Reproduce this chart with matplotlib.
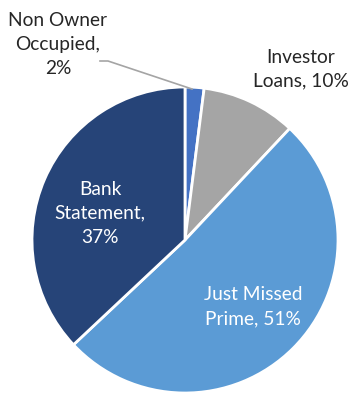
import matplotlib
matplotlib.use("Agg")
import matplotlib.pyplot as plt

# loan mix by program, percent of total
segments = ["Non Owner Occupied", "Investor Loans", "Just Missed Prime", "Bank Statement"]
shares = [2, 10, 51, 37]
label_text = ["Non Owner\nOccupied,\n2%", "Investor\nLoans, 10%",
              "Just Missed\nPrime, 51%", "Bank\nStatement,\n37%"]
colors = ["#4472C4", "#A5A5A5", "#5B9BD5", "#264478"]

W, H = 352, 394
fig = plt.figure(figsize=(W / 100, H / 100), dpi=100)
ax = fig.add_axes([0, 0, 1, 1])

cx, cy, r = 185, H - 240, 153
ax.pie(shares, colors=colors, startangle=90, counterclock=False,
       center=(cx, cy), radius=r, frame=True,
       wedgeprops=dict(edgecolor="white", linewidth=2))
ax.set_xlim(0, W)
ax.set_ylim(0, H)
ax.set_aspect("equal")
ax.axis("off")

font = dict(family=["Lato", "DejaVu Sans"], fontsize=13.8, ha="center",
            va="center", linespacing=1.5)
# outside labels
ax.text(58, H - 44, label_text[0], color="#262626", **font)
ax.text(301, H - 69, label_text[1], color="#262626", **font)
# inside labels
ax.text(253, H - 307, label_text[2], color="white", **font)
ax.text(100, H - 213, label_text[3], color="white", **font)

# leader line for the small slice
ax.plot([100, 108, 192], [H - 61, H - 61, H - 89], color="#A5A5A5", lw=1.2)

fig.savefig("out.png", dpi=100)
